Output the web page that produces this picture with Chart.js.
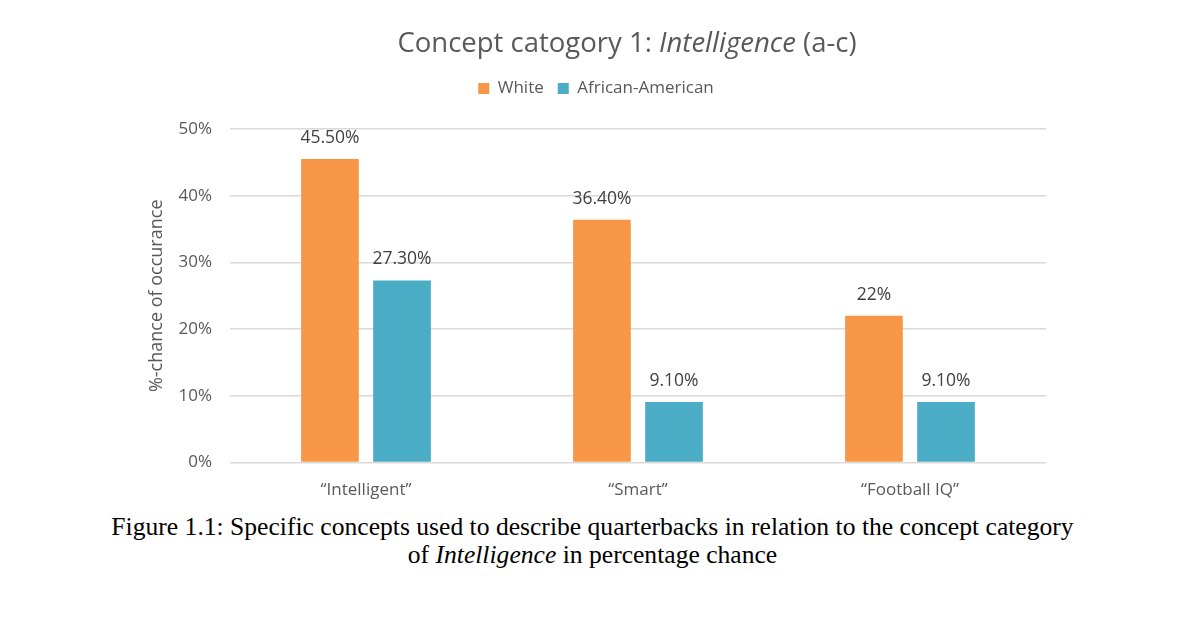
<!DOCTYPE html>
<html><head><meta charset="utf-8">
<script src="https://cdn.jsdelivr.net/npm/chart.js@4"></script>
<style>
html,body{margin:0;padding:0;background:#fff;width:1200px;height:628px;overflow:hidden;}
#wrap{position:absolute;left:0;top:0;width:1200px;height:509px;}
#title{position:absolute;left:0;width:1254px;top:23px;text-align:center;font-family:'Open Sans',sans-serif;font-size:27.5px;color:#595959;}
#cap{position:absolute;left:0;width:1185px;top:513px;text-align:center;font-family:'Liberation Serif','Times New Roman',serif;font-size:25.6px;line-height:28px;color:#000;}
</style></head>
<body>
<div id="wrap"><canvas id="c"></canvas></div>
<div id="title">Concept catogory 1: <i>Intelligence</i> (a-c)</div>
<div id="cap">Figure 1.1: Specific concepts used to describe quarterbacks in relation to the concept category<br>of <i>Intelligence</i> in percentage chance</div>
<script>
const categories = ['\u201cIntelligent\u201d', '\u201cSmart\u201d', '\u201cFootball IQ\u201d'];
const whiteValues = [45.5, 36.4, 22];
const africanAmericanValues = [27.3, 9.1, 9.1];
const whiteLabels = ['45.50%', '36.40%', '22%'];
const africanAmericanLabels = ['27.30%', '9.10%', '9.10%'];
const yTicks = [0, 10, 20, 30, 40, 50];

const FONT = "'Open Sans', sans-serif";
const valueLabels = {
  id: 'valueLabels',
  afterDatasetsDraw(chart) {
    const ctx = chart.ctx;
    ctx.save();
    ctx.font = '17.5px ' + FONT;
    ctx.fillStyle = '#404040';
    ctx.textAlign = 'center';
    ctx.textBaseline = 'middle';
    const sets = [whiteLabels, africanAmericanLabels];
    chart.data.datasets.forEach((ds, i) => {
      chart.getDatasetMeta(i).data.forEach((bar, j) => {
        ctx.fillText(sets[i][j], bar.x, bar.y - 21);
      });
    });
    ctx.restore();
  }
};
const legendSpace = {
  id: 'legendSpace',
  afterInit(chart) {
    const l = chart.legend;
    if (!l) return;
    const f = l.fit.bind(l);
    l.fit = function () { f(); this.height += 22; };
  }
};

new Chart(document.getElementById('c'), {
  type: 'bar',
  data: {
    labels: categories,
    datasets: [
      { label: 'White', data: whiteValues, backgroundColor: '#F79646' },
      { label: 'African-American', data: africanAmericanValues, backgroundColor: '#4BACC6' }
    ]
  },
  options: {
    responsive: true,
    maintainAspectRatio: false,
    animation: false,
    layout: { padding: { left: 146, right: 154, top: 66, bottom: 0 } },
    datasets: { bar: { categoryPercentage: 0.53, barPercentage: 0.8 } },
    plugins: {
      title: { display: false },
      tooltip: { enabled: false },
      legend: {
        display: true,
        position: 'top',
        labels: { boxWidth: 11, boxHeight: 11, font: { family: FONT, size: 17 }, color: '#595959', padding: 14 }
      }
    },
    scales: {
      x: {
        grid: { display: false },
        border: { display: false },
        ticks: { font: { family: FONT, size: 17 }, color: '#595959', padding: 9 }
      },
      y: {
        min: 0, max: 50,
        afterFit(scale) { scale.width = 84; },
        afterBuildTicks(scale) { scale.ticks = yTicks.map(v => ({ value: v })); },
        grid: { color: '#D9D9D9', lineWidth: 1.5, drawTicks: false },
        border: { display: false },
        ticks: { font: { family: FONT, size: 17 }, color: '#595959', padding: 18, callback: v => v + '%' },
        title: { display: true, text: '%-chance of occurance', font: { family: FONT, size: 18 }, color: '#595959', padding: 0 }
      }
    }
  },
  plugins: [valueLabels, legendSpace]
});
</script>
</body></html>
